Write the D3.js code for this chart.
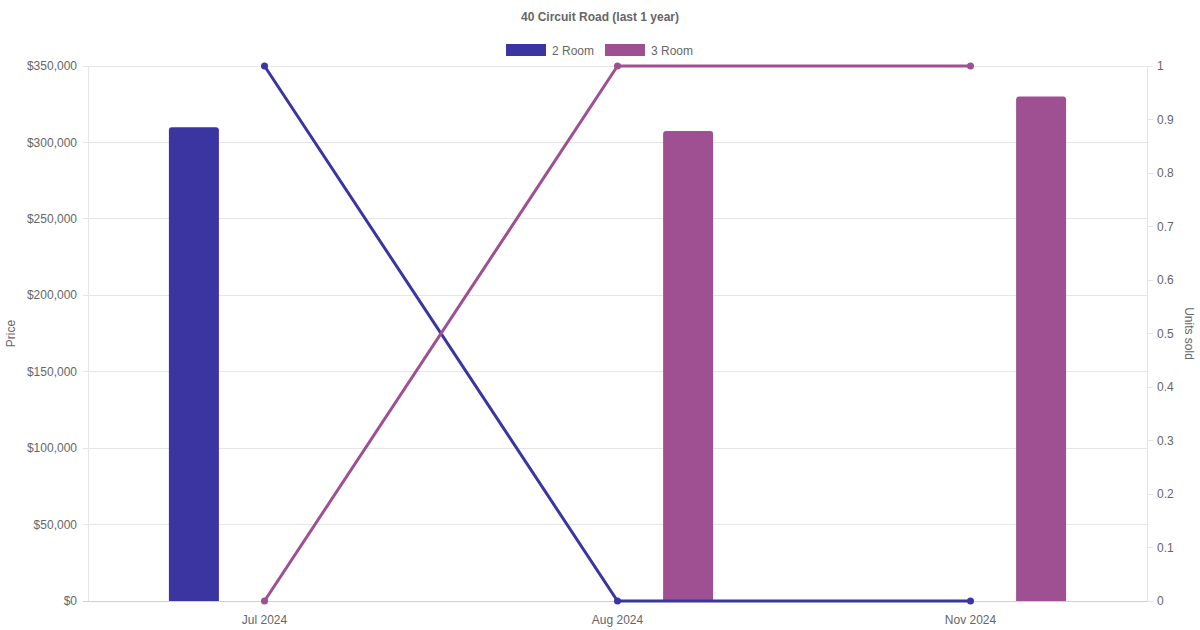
<!DOCTYPE html>
<html><head><meta charset="utf-8">
<script src="https://cdn.jsdelivr.net/npm/d3@7"></script>
<style>body{margin:0;background:#fff}svg{display:block;font-family:"Liberation Sans",Arial,sans-serif}</style>
</head><body><svg id="c" width="1200" height="630"></svg>
<script>
const categories = ["Jul 2024", "Aug 2024", "Nov 2024"];
const seriesNames = ["2 Room", "3 Room"];
const colors = ["#3a35a0", "#9e5093"];
const priceValues = [[310000, null, null], [null, 307500, 330000]];
const unitsValues = [[1, 0, 0], [0, 1, 1]];
const priceTicks = [0, 50000, 100000, 150000, 200000, 250000, 300000, 350000];
const unitTicks = [0, 0.1, 0.2, 0.3, 0.4, 0.5, 0.6, 0.7, 0.8, 0.9, 1];

const svg = d3.select("#c");
const L = 88, R = 1147, T = 66, B = 601;
const x = d3.scaleBand().domain(categories).range([L, R]);
const xs = d3.scaleBand().domain(seriesNames).range([0, x.bandwidth()]).paddingInner(0).paddingOuter(0.25);
const yP = d3.scaleLinear().domain([0, 350000]).range([B, T]);
const yU = d3.scaleLinear().domain([0, 1]).range([B, T]);
const fmt = d => "$" + d3.format(",")(d);

// grid
svg.append("g").selectAll("line").data(priceTicks).join("line")
  .attr("x1", L - 5).attr("x2", R).attr("y1", d => yP(d)).attr("y2", d => yP(d))
  .attr("stroke", d => d === 0 ? "#cfcfcf" : "#e5e5e5").attr("stroke-width", 1).attr("shape-rendering", "crispEdges");
svg.append("g").selectAll("line").data(unitTicks).join("line")
  .attr("x1", R).attr("x2", R + 6).attr("y1", d => yU(d)).attr("y2", d => yU(d))
  .attr("stroke", "#e5e5e5").attr("shape-rendering", "crispEdges");
svg.append("line").attr("x1", L).attr("x2", L).attr("y1", T).attr("y2", B).attr("stroke", "#e5e5e5").attr("shape-rendering", "crispEdges");
svg.append("line").attr("x1", R).attr("x2", R).attr("y1", T).attr("y2", B).attr("stroke", "#e5e5e5").attr("shape-rendering", "crispEdges");

// axis labels
svg.append("g").selectAll("text").data(priceTicks).join("text")
  .attr("x", L - 11).attr("y", d => yP(d)).attr("dy", "0.35em").attr("text-anchor", "end")
  .attr("font-size", 12).attr("fill", "#666").text(fmt);
svg.append("g").selectAll("text").data(unitTicks).join("text")
  .attr("x", R + 10).attr("y", d => yU(d)).attr("dy", "0.35em").attr("text-anchor", "start")
  .attr("font-size", 12).attr("fill", "#666").text(d => d3.format("~g")(d));
svg.append("g").selectAll("text").data(categories).join("text")
  .attr("x", d => x(d) + x.bandwidth() / 2).attr("y", 624).attr("text-anchor", "middle")
  .attr("font-size", 12).attr("fill", "#666").text(d => d);

svg.append("text").attr("transform", `translate(15,${(T + B) / 2}) rotate(-90)`).attr("text-anchor", "middle")
  .attr("font-size", 12).attr("fill", "#666").text("Price");
svg.append("text").attr("transform", `translate(1185,${(T + B) / 2}) rotate(90)`).attr("text-anchor", "middle")
  .attr("font-size", 12).attr("fill", "#666").text("Units sold");

// title
svg.append("text").attr("x", 600).attr("y", 21).attr("text-anchor", "middle").attr("font-size", 12)
  .attr("font-weight", "bold").attr("fill", "#666").text("40 Circuit Road (last 1 year)");

// legend
const leg = [{x: 506}, {x: 605}];
seriesNames.forEach((s, i) => {
  svg.append("rect").attr("x", leg[i].x).attr("y", 44).attr("width", 40).attr("height", 12).attr("fill", colors[i]);
  svg.append("text").attr("x", leg[i].x + 46).attr("y", 54.5).attr("font-size", 12).attr("fill", "#666").text(s);
});

// bars
const bw = 50, rr = 3;
seriesNames.forEach((s, i) => {
  const data = categories.map((c, j) => ({c, v: priceValues[i][j]})).filter(d => d.v != null);
  svg.append("g").selectAll("path").data(data).join("path")
    .attr("d", d => {
      const cx = x(d.c) + xs(s) + xs.bandwidth() / 2;
      const x0 = cx - bw / 2, x1 = cx + bw / 2, y0 = yP(d.v), y1 = yP(0);
      return `M${x0},${y1}V${y0 + rr}Q${x0},${y0} ${x0 + rr},${y0}H${x1 - rr}Q${x1},${y0} ${x1},${y0 + rr}V${y1}Z`;
    })
    .attr("fill", colors[i]);
});

// lines
const line = d3.line().x(d => x(d.c) + x.bandwidth() / 2).y(d => yU(d.v));
seriesNames.forEach((s, i) => {
  const data = categories.map((c, j) => ({c, v: unitsValues[i][j]}));
  svg.append("path").datum(data).attr("d", line).attr("fill", "none").attr("stroke", colors[i]).attr("stroke-width", 3);
  svg.append("g").selectAll("circle").data(data).join("circle")
    .attr("cx", d => x(d.c) + x.bandwidth() / 2).attr("cy", d => yU(d.v)).attr("r", 3.5).attr("fill", colors[i]);
});
</script></body></html>
